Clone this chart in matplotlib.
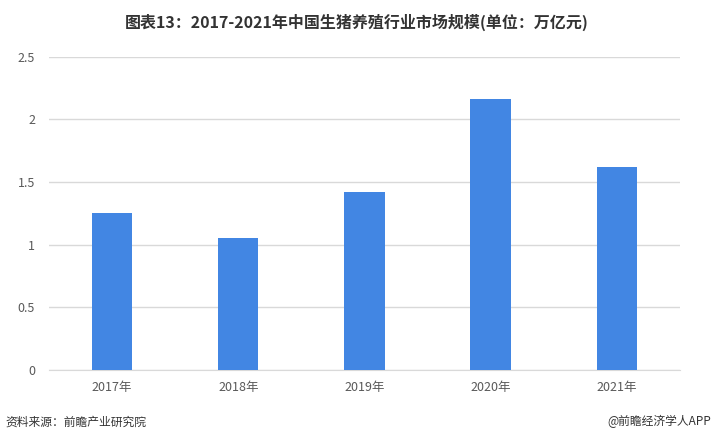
import matplotlib
matplotlib.use('Agg')
from matplotlib import pyplot as plt

plt.rcParams['font.family'] = ['Noto Sans CJK SC', 'DejaVu Sans']

years = ['2017年', '2018年', '2019年', '2020年', '2021年']
values = [1.25, 1.05, 1.42, 2.16, 1.62]
yticks = [0, 0.5, 1, 1.5, 2, 2.5]
ytick_labels = ['0', '0.5', '1', '1.5', '2', '2.5']

fig = plt.figure(figsize=(7.13, 4.45), dpi=100)
ax = fig.add_axes([0.0687, 0.1685, 0.885, 0.7041])

x = range(len(years))
ax.bar(x, values, width=0.32, color='#4286E3', zorder=3)

ax.set_xlim(-0.5, len(years) - 0.5)
ax.set_ylim(0, 2.5)
ax.set_yticks(yticks)
ax.set_yticklabels(ytick_labels)
ax.set_xticks(list(x))
ax.set_xticklabels(years)
ax.grid(axis='y', color='#d9d9d9', linewidth=1, zorder=0)
for side in ['top', 'right', 'left']:
    ax.spines[side].set_visible(False)
ax.spines['bottom'].set_color('#d9d9d9')
ax.tick_params(axis='both', length=0, labelsize=9, colors='#595959', pad=8)
ax.tick_params(axis='y', pad=10)

fig.text(0.5, 0.95, '图表13：2017-2021年中国生猪养殖行业市场规模(单位：万亿元)',
         ha='center', va='center', fontsize=11.5, fontweight='bold', color='#333333')
fig.text(0.008, 0.052, '资料来源：前瞻产业研究院', ha='left', va='center',
         fontsize=8.5, color='#333333')
fig.text(0.997, 0.052, '@前瞻经济学人APP', ha='right', va='center',
         fontsize=8.5, color='#333333')

fig.savefig('out.png', dpi=100)
